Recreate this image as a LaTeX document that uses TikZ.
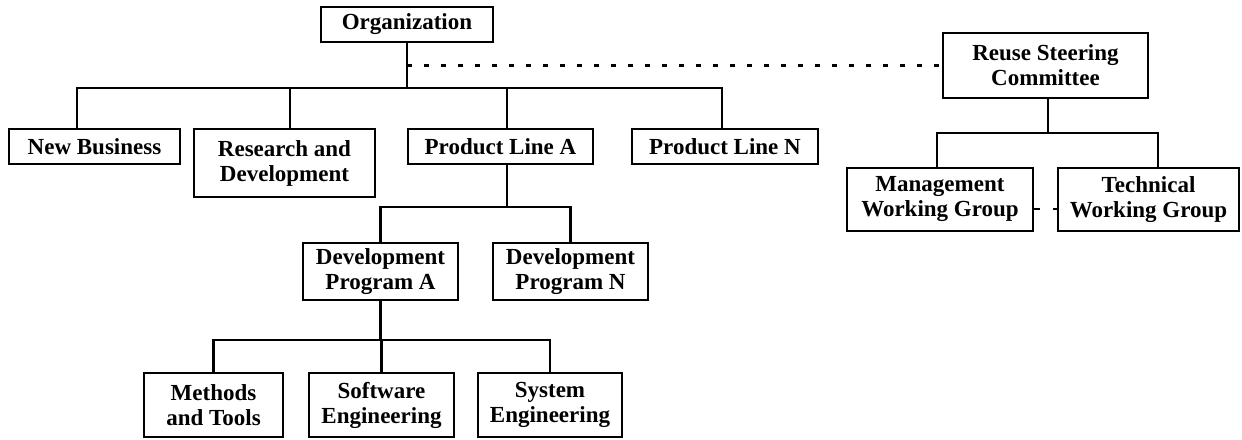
\documentclass[tikz,border=0pt]{standalone}
\usepackage{fontspec}
\setmainfont{Liberation Serif}
\begin{document}
\begin{tikzpicture}[x=1pt,y=-1pt,
  box/.style={draw, line width=2.6pt, align=center, inner sep=0pt,
    font=\bfseries\fontsize{23}{25}\selectfont},
  link/.style={line width=2.6pt},
  dotlink/.style={line width=2.6pt, dash pattern=on 5pt off 12pt},
  linkdash/.style={line width=2.6pt, dash pattern=on 6pt off 13pt on 6pt off 20pt},
]
\useasboundingbox (0,0) rectangle (1242,439);

% main hierarchy
\node[box, minimum width=172pt, minimum height=35pt] (org) at (407,24.5) {Organization};
\node[box, minimum width=171pt, minimum height=35pt] (nb)  at (94.5,146.5) {New Business};
\node[box, minimum width=181pt, minimum height=68pt] (rd)  at (284.5,163) {Research and\\Development};
\node[box, minimum width=185pt, minimum height=35pt] (pla) at (500.5,146.5) {Product Line A};
\node[box, minimum width=186pt, minimum height=35pt] (pln) at (725,146.5) {Product Line N};

\node[box, minimum width=155pt, minimum height=57pt] (dpa) at (380.5,271.5) {Development\\Program A};
\node[box, minimum width=155pt, minimum height=57pt] (dpn) at (570.5,271.5) {Development\\Program N};

\node[box, minimum width=139pt, minimum height=64pt] (meth) at (213.5,405) {Methods\\and Tools};
\node[box, minimum width=145pt, minimum height=64pt] (swe)  at (381.5,405) {Software\\Engineering};
\node[box, minimum width=144pt, minimum height=64pt] (syse) at (550,405) {System\\Engineering};

% reuse organization
\node[box, minimum width=205pt, minimum height=65pt] (rsc) at (1045.5,65.5) {Reuse Steering\\Committee};
\node[box, minimum width=186pt, minimum height=63pt] (mwg) at (940,199.5) {Management\\Working Group};
\node[box, minimum width=181pt, minimum height=63pt] (twg) at (1148.5,199.5) {Technical\\Working Group};

% bus heights
\coordinate (busA) at (0,88);
\coordinate (busB) at (0,207);
\coordinate (busC) at (0,340);
\coordinate (busR) at (0,133);

% organization to its divisions
\draw[link] (org.south) -- (org.south |- busA);
\draw[link] ([xshift=-17.5pt]nb.north) |- ([xshift=-3pt]pln.north |- busA) -- ([xshift=-3pt]pln.north);
\draw[link] ([xshift=5.5pt]rd.north) -- ([xshift=5.5pt]rd.north |- busA);
\draw[link] ([xshift=6.5pt]pla.north) -- ([xshift=6.5pt]pla.north |- busA);

% product line to development programs
\draw[link] ([xshift=6.5pt]pla.south) -- ([xshift=6.5pt]pla.south |- busB);
\draw[link] (dpa.north) |- (dpn.north |- busB) -- (dpn.north);

% development program to functions
\draw[link] (dpa.south) -- (dpa.south |- busC);
\draw[link] (meth.north) |- (syse.north |- busC) -- (syse.north);
\draw[link] (swe.north) -- (swe.north |- busC);

% advisory link to the steering committee
\draw[dotlink] (org.south |- rsc.west) -- (rsc.west);

% steering committee to working groups
\draw[link] ([xshift=2.5pt]rsc.south) -- ([xshift=2.5pt]rsc.south |- busR);
\draw[link] ([xshift=-3pt]mwg.north) |- ([xshift=9.5pt]twg.north |- busR) -- ([xshift=9.5pt]twg.north);
\draw[linkdash] ([yshift=-9.5pt]mwg.east) -- ([yshift=-9.5pt]twg.west);
\end{tikzpicture}
\end{document}
